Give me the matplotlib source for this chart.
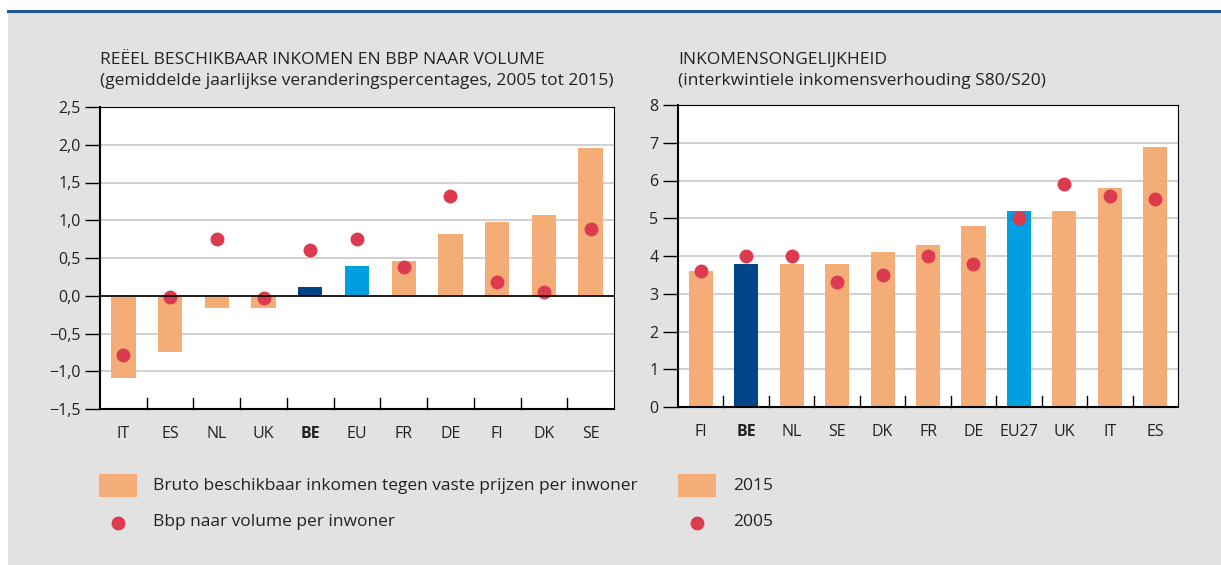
import matplotlib
matplotlib.use('Agg')
import matplotlib.pyplot as plt
from matplotlib.patches import Rectangle
from matplotlib.lines import Line2D
import numpy as np

plt.rcParams['font.family'] = ['Open Sans', 'DejaVu Sans']

# linker grafiek: reëel beschikbaar inkomen en bbp
landen_links = ["IT", "ES", "NL", "UK", "BE", "EU", "FR", "DE", "FI", "DK", "SE"]
inkomen = [-1.09, -0.74, -0.16, -0.16, 0.11, 0.40, 0.46, 0.82, 0.98, 1.07, 1.96]
bbp = [-0.79, -0.02, 0.75, -0.03, 0.60, 0.75, 0.38, 1.32, 0.18, 0.05, 0.89]

# rechter grafiek: inkomensongelijkheid S80/S20
landen_rechts = ["FI", "BE", "NL", "SE", "DK", "FR", "DE", "EU27", "UK", "IT", "ES"]
s80_2015 = [3.6, 3.8, 3.8, 3.8, 4.1, 4.3, 4.8, 5.2, 5.2, 5.8, 6.9]
s80_2005 = [3.6, 4.0, 4.0, 3.3, 3.5, 4.0, 3.8, 5.0, 5.9, 5.6, 5.5]

ORANJE = '#f5ad78'
DONKERBLAUW = '#004587'
LICHTBLAUW = '#009fe0'
ROOD = '#dc3a4e'
GRIJS = '#e2e2e2'
TEKST = '#222222'

W, H = 1221, 565
fig = plt.figure(figsize=(W / 100, H / 100), dpi=100)
fig.patch.set_facecolor('white')

# achtergrond en blauwe lijn bovenaan
fig.patches.append(Rectangle((8 / W, 0), 1, 1 - 13 / H, transform=fig.transFigure,
                             facecolor=GRIJS, edgecolor='none', zorder=-10))
fig.lines.append(Line2D([8 / W, 1], [1 - 11 / H, 1 - 11 / H], transform=fig.transFigure,
                        color='#1f5a96', linewidth=2.2))


def kleuren(landen):
    out = []
    for l in landen:
        if l == "BE":
            out.append(DONKERBLAUW)
        elif l in ("EU", "EU27"):
            out.append(LICHTBLAUW)
        else:
            out.append(ORANJE)
    return out


def opmaak(ax, landen, yticks, ylabels, ymin, ymax):
    x = np.arange(len(landen))
    ax.set_xlim(-0.5, len(landen) - 0.5)
    ax.set_ylim(ymin, ymax)
    ax.set_facecolor('white')
    ax.set_yticks(yticks)
    ax.set_yticklabels(ylabels, fontsize=11.5, color=TEKST)
    ax.tick_params(axis='y', length=11, width=1, pad=3)
    ax.set_xticks(x)
    ax.set_xticklabels(landen, fontsize=11.5, color=TEKST)
    ax.tick_params(axis='x', length=0, pad=12)
    for lab in ax.get_xticklabels():
        if lab.get_text() == "BE":
            lab.set_fontweight('bold')
    # scheidingsstreepjes tussen de landen
    for grens in x[:-1] + 0.5:
        ax.plot([grens, grens], [ymin, ymin + (ymax - ymin) * 0.035], color='black',
                linewidth=1, zorder=4, clip_on=False)
    ax.grid(axis='y', color='#c8c8c8', linewidth=1.2)
    ax.set_axisbelow(True)
    for kant in ['top', 'right']:
        ax.spines[kant].set_linewidth(0.8)
    for kant in ['left', 'bottom']:
        ax.spines[kant].set_linewidth(1.5)


# linker grafiek
ax1 = fig.add_axes([100 / W, 1 - 409 / H, 514 / W, 302 / H])
x1 = np.arange(len(landen_links))
ax1.bar(x1, inkomen, width=0.52, color=kleuren(landen_links), zorder=2)
ax1.plot(x1, bbp, 'o', color=ROOD, markersize=9, zorder=3)
ax1.axhline(0, color='black', linewidth=1.2, zorder=3)
yt1 = [-1.5, -1.0, -0.5, 0.0, 0.5, 1.0, 1.5, 2.0, 2.5]
opmaak(ax1, landen_links, yt1, [f"{v:.1f}".replace('.', ',').replace('-', '\u2212') for v in yt1], -1.5, 2.5)
fig.text(100 / W, 1 - 60 / H, "REËEL BESCHIKBAAR INKOMEN EN BBP NAAR VOLUME",
         fontsize=12.5, color=TEKST, va='center', ha='left')
fig.text(100 / W, 1 - 81 / H, "(gemiddelde jaarlijkse veranderingspercentages, 2005 tot 2015)",
         fontsize=12.5, color=TEKST, va='center', ha='left')

# rechter grafiek
ax2 = fig.add_axes([678 / W, 1 - 407 / H, 500 / W, 302 / H])
x2 = np.arange(len(landen_rechts))
ax2.bar(x2, s80_2015, width=0.53, color=kleuren(landen_rechts), zorder=2)
ax2.plot(x2, s80_2005, 'o', color=ROOD, markersize=9, zorder=3)
yt2 = list(range(0, 9))
opmaak(ax2, landen_rechts, yt2, [str(v) for v in yt2], 0, 8)
fig.text(678 / W, 1 - 60 / H, "INKOMENSONGELIJKHEID",
         fontsize=12.5, color=TEKST, va='center', ha='left')
fig.text(678 / W, 1 - 81 / H, "(interkwintiele inkomensverhouding S80/S20)",
         fontsize=12.5, color=TEKST, va='center', ha='left')

# legenda's
def legenda(x_vak, x_tekst, balk_tekst, punt_tekst):
    fig.patches.append(Rectangle((x_vak / W, 1 - 497 / H), 38 / W, 23 / H,
                                 transform=fig.transFigure, facecolor=ORANJE,
                                 edgecolor='none'))
    fig.lines.append(Line2D([(x_vak + 19) / W], [1 - 523 / H], transform=fig.transFigure,
                            marker='o', color=ROOD, markersize=9, linestyle='none'))
    fig.text(x_tekst / W, 1 - 486 / H, balk_tekst, fontsize=12.5, color=TEKST, va='center')
    fig.text(x_tekst / W, 1 - 522 / H, punt_tekst, fontsize=12.5, color=TEKST, va='center')


legenda(99, 153, "Bruto beschikbaar inkomen tegen vaste prijzen per inwoner",
        "Bbp naar volume per inwoner")
legenda(678, 733, "2015", "2005")

fig.savefig('out.png', dpi=100)
